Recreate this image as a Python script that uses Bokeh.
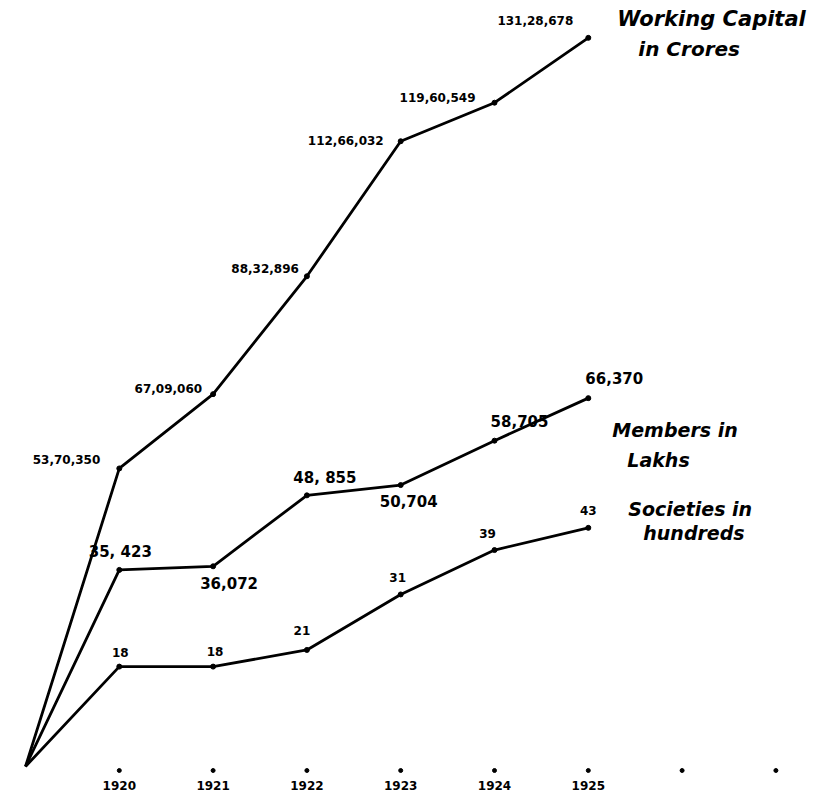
from bokeh.plotting import figure
from bokeh.models import Range1d, ColumnDataSource
from bokeh.core.properties import value
from bokeh.embed import file_html
from bokeh.resources import INLINE

# ---------------- data ----------------
origin_year = 1919
origin_value = 0
years = [1920, 1921, 1922, 1923, 1924, 1925]
axis_years = [1920, 1921, 1922, 1923, 1924, 1925, 1926, 1927]
year_labels = ["1920", "1921", "1922", "1923", "1924", "1925", "", ""]

# Working capital (in lakhs of rupees)
capital = [53.70350, 67.09060, 88.32896, 112.66032, 119.60549, 131.28678]
capital_labels = ["53,70,350", "67,09,060", "88,32,896", "112,66,032", "119,60,549", "131,28,678"]

# Members (in thousands)
members = [35.423, 36.072, 48.855, 50.704, 58.705, 66.370]
members_labels = ["35, 423", "36,072", "48, 855", "50,704", "58,705", "66,370"]

# Societies (in hundreds)
societies = [18, 18, 21, 31, 39, 43]
societies_labels = ["18", "18", "21", "31", "39", "43"]

# ---------------- layout ----------------
W, H = 816, 800
px_per_year = 93.8
x0_px = 25
px_per_unit = 5.55
y0_px = 766

p = figure(width=W, height=H, output_backend="svg", toolbar_location=None,
           x_axis_type=None, y_axis_type=None, min_border=0,
           x_range=Range1d(origin_year - x0_px / px_per_year, origin_year + (W - x0_px) / px_per_year),
           y_range=Range1d(-(H - y0_px) / px_per_unit, y0_px / px_per_unit))
p.grid.visible = False
p.outline_line_color = None
p.background_fill_color = "white"
p.border_fill_color = "white"

num_font = value("DejaVu Sans")
name_font = value("DejaVu Sans")

series = [
    (capital, capital_labels, "right",
     [-19, -11, -8, -17, -19, -15], [-9, -6, -8, -1, -5, -17], "12px", "bold"),
    (members, members_labels, "center",
     [1, 16, 18, 8, 25, 26], [-18, 17, -17, 16, -20, -20], "15px", "bold"),
    (societies, societies_labels, "center",
     [1, 2, -5, -3, -7, 0], [-14, -15, -19, -17, -17, -17], "12px", "bold"),
]

for vals, labs, align, dxs, dys, fs, fst in series:
    xs = [origin_year] + years
    ys = [origin_value] + vals
    p.line(xs, ys, line_color="black", line_width=2.8, line_join="round")
    p.scatter(years, vals, size=5, color="black")
    src = ColumnDataSource(dict(x=years, y=vals, t=labs, dx=dxs, dy=dys))
    p.text(x="x", y="y", text="t", x_offset="dx", y_offset="dy", source=src,
           text_align=align, text_baseline="middle", text_font=num_font,
           text_font_size=fs, text_font_style=fst, text_color="black")

# axis tick dots and year labels
tick_y = -4 / px_per_unit
p.scatter(axis_years, [tick_y] * len(axis_years), size=4, color="black")
p.text(x=axis_years, y=[-19 / px_per_unit] * len(axis_years), text=year_labels,
       text_align="center", text_baseline="middle", text_font=num_font,
       text_font_size="12px", text_font_style="bold", text_color="black")

# series names, placed next to the last point of each series
last = years[-1]
names = [
    (capital[-1], "Working Capital", 29, -19, "21px"),
    (capital[-1], "in Crores", 50, 11, "20px"),
    (members[-1], "Members in", 24, 32, "19px"),
    (members[-1], "Lakhs", 39, 62, "19px"),
    (societies[-1], "Societies in", 40, -19, "19px"),
    (societies[-1], "hundreds", 55, 5, "19px"),
]
for yv, t, dx, dy, fs in names:
    p.text(x=[last], y=[yv], text=[t], x_offset=dx, y_offset=dy,
           text_align="left", text_baseline="middle", text_font=name_font,
           text_font_size=fs, text_font_style="bold italic", text_color="black")

open("out.html", "w").write(file_html(p, INLINE))
